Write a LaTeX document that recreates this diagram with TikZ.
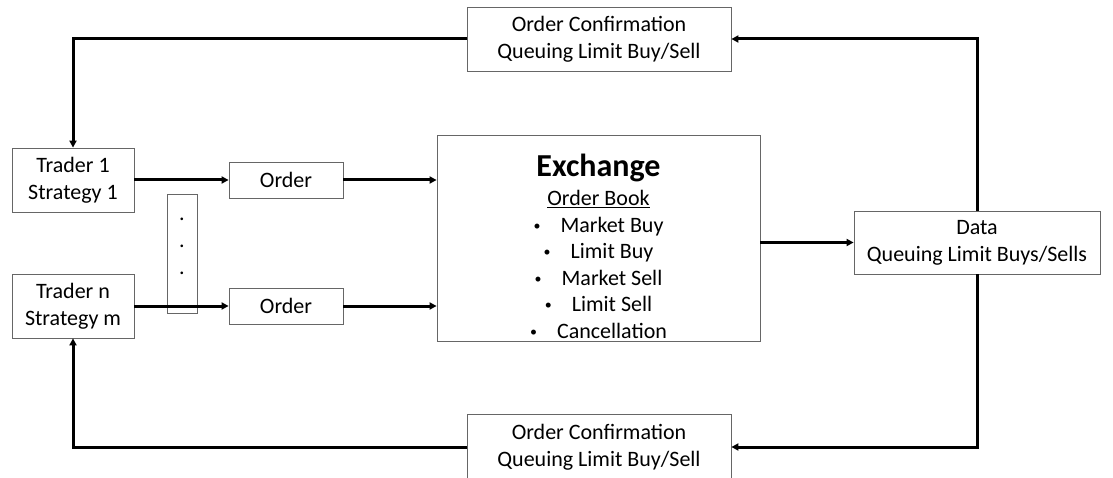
\documentclass[tikz,border=0pt]{standalone}
\usepackage{fontspec}
\setmainfont{Carlito}
\usetikzlibrary{arrows.meta}
\newcommand{\smbul}{\raisebox{2pt}{\fontsize{14}{14}\selectfont\textbullet}}
\begin{document}
\begin{tikzpicture}[x=1pt,y=-1pt,
  box/.style={draw=black!60, line width=0.8pt, fill=white, inner sep=0pt, align=center,
    font=\fontsize{22}{27}\selectfont},
  conn/.style={line width=3pt, -{Triangle[length=7pt,width=7pt]}}]
\useasboundingbox (0,0) rectangle (1113,478);
\node[box, minimum width=264pt, minimum height=64pt] (top) at (599,39) {Order Confirmation\\Queuing Limit Buy/Sell};
\node[box, minimum width=264pt, minimum height=66pt] (bot) at (599,447) {Order Confirmation\\Queuing Limit Buy/Sell};
\node[box, minimum width=122pt, minimum height=64pt] (t1) at (73,180) {Trader 1\\Strategy 1};
\node[box, minimum width=122pt, minimum height=64pt] (tn) at (73,306) {Trader n\\Strategy m};
\node[box, minimum width=30pt, minimum height=119pt] (dots) at (182,253.5) {};
\node[align=center, inner sep=0pt, font=\fontsize{22}{27}\selectfont] (dotl) at (182,246) {.\\.\\.};
\node[box, minimum width=114pt, minimum height=36pt] (o1) at (286,180) {Order};
\node[box, minimum width=114pt, minimum height=36pt] (o2) at (286,306) {Order};
\node[box, minimum width=323pt, minimum height=206pt] (ex) at (598.5,238) {};
\node[align=center, inner sep=0pt, font=\fontsize{22}{26.5}\selectfont] (exl) at (598.5,246)
  {{\fontsize{32}{36}\selectfont\bfseries Exchange}\\[3pt]
   \underline{Order Book}\\
   \smbul\hspace{20pt}Market Buy\\
   \smbul\hspace{20pt}Limit Buy\\
   \smbul\hspace{20pt}Market Sell\\
   \smbul\hspace{20pt}Limit Sell\\
   \smbul\hspace{20pt}Cancellation};
\node[box, minimum width=246pt, minimum height=63pt] (data) at (977,242.5) {Data\\Queuing Limit Buys/Sells};
\coordinate (c1) at (977,39);
\coordinate (c2) at (73,39);
\coordinate (c3) at (977,447);
\coordinate (c4) at (73,447);
\draw[conn] (data.north) -- (c1) -- (top.east);
\draw[conn] (top.west) -- (c2) -- (t1.north);
\draw[conn] (data.south) -- (c3) -- (bot.east);
\draw[conn] (bot.west) -- (c4) -- (tn.south);
\draw[conn] (t1.east) -- (o1.west);
\draw[conn] (tn.east) -- (o2.west);
\draw[conn] (o1.east) -- (ex.west |- o1.east);
\draw[conn] (o2.east) -- (ex.west |- o2.east);
\draw[conn] (ex.east |- data.west) -- (data.west);
\end{tikzpicture}
\end{document}
